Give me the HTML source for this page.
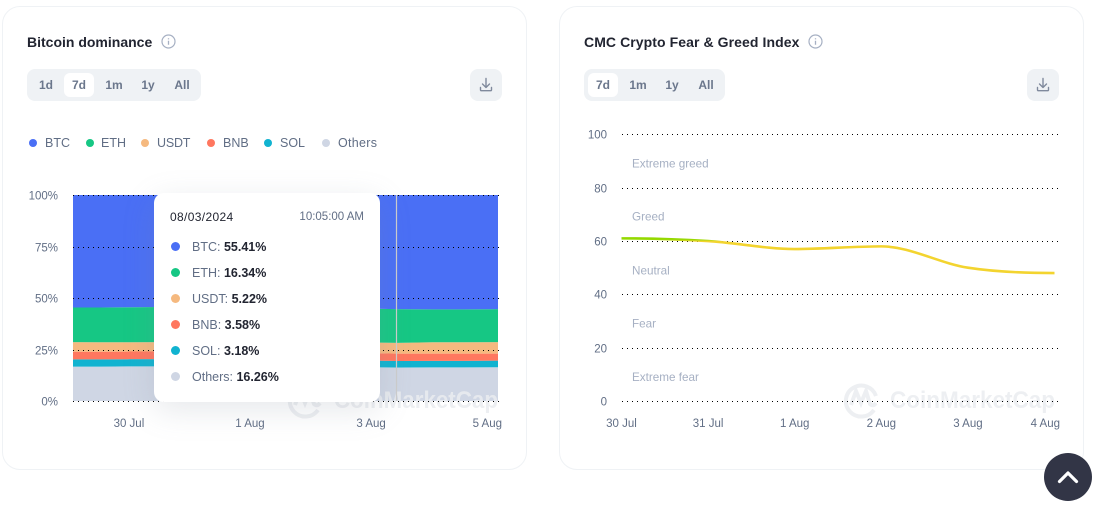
<!DOCTYPE html>
<html lang="en">
<head>
<meta charset="utf-8">
<title>Bitcoin dominance and Fear &amp; Greed charts</title>
<style>
html,body{margin:0;padding:0;background:#fff;}
body{position:relative;width:1100px;height:522px;overflow:hidden;font-family:"Liberation Sans",sans-serif;color:#222531;}
.card{position:absolute;top:6px;width:523px;height:462px;border:1px solid #eff2f5;border-radius:18px;background:#fff;box-sizing:content-box;}
.abs{position:absolute;white-space:nowrap;line-height:16px;}
.title{top:34px;font-size:14px;font-weight:bold;color:#222531;}
.tabs{position:absolute;top:69px;height:32px;border-radius:8px;background:#eff2f5;}
.tab{position:absolute;top:4px;height:24px;line-height:24px;text-align:center;font-size:12px;font-weight:bold;color:#6b778c;border-radius:6px;}
.tab.on{background:#fff;}
.dl{position:absolute;top:69px;width:32px;height:32px;border-radius:8px;background:#eff2f5;}
.info{position:absolute;top:34px;width:15px;height:15px;}
.lg-dot{position:absolute;top:139px;width:8px;height:8px;border-radius:50%;}
.lg-txt{top:135px;font-size:12.5px;color:#616e85;}
svg.chart{position:absolute;left:0;top:0;}
#tooltip{position:absolute;left:154px;top:193px;width:226px;height:209px;background:#fff;border-radius:10px;box-shadow:0 8px 32px rgba(128,138,157,.2);}
.tt-dot{position:absolute;left:17px;width:9px;height:9px;border-radius:50%;}
.tt-row{left:38px;font-size:12.5px;color:#616e85;}
.tt-row b{color:#222531;}
#scroll-top{position:absolute;left:1044px;top:453px;width:48px;height:48px;border-radius:50%;background:#323546;}
</style>
</head>
<body>

<section class="card" style="left:2px"></section>
<section class="card" style="left:559px"></section>

<svg id="dominance-chart" class="chart" width="1100" height="522"></svg>
<svg id="feargreed-chart" class="chart" width="1100" height="522"></svg>

<div class="abs title" style="left:27px">Bitcoin dominance</div>
<svg class="info" style="left:160.500px" viewBox="0 0 15 15"><circle cx="7.500" cy="7.500" r="6.500" fill="none" stroke="#a6b0c3" stroke-width="1.200"/><path d="M7.500 6.800V10.800M7.500 4.200V5.400" stroke="#a6b0c3" stroke-width="1.300" fill="none"/></svg>

<div class="tabs" style="left:27px;width:174px">
  <div class="tab" style="left:4px;width:30px">1d</div>
  <div class="tab on" style="left:37px;width:30px">7d</div>
  <div class="tab" style="left:72px;width:30px">1m</div>
  <div class="tab" style="left:106px;width:30px">1y</div>
  <div class="tab" style="left:140px;width:30px">All</div>
</div>
<div class="dl" style="left:470px">
  <svg width="32" height="32" viewBox="0 0 32 32"><path d="M16 9.500V18M12.500 15l3.500 3.500 3.500-3.500M10.500 18.500v2.200a1 1 0 0 0 1 1h9a1 1 0 0 0 1-1v-2.200" fill="none" stroke="#808a9d" stroke-width="1.400" stroke-linecap="round" stroke-linejoin="round"/></svg>
</div>

<div class="lg-dot" style="left:29px;background:#4a6ff5"></div>
<div class="abs lg-txt" style="left:45px">BTC</div>
<div class="lg-dot" style="left:86px;background:#16c784"></div>
<div class="abs lg-txt" style="left:101px">ETH</div>
<div class="lg-dot" style="left:141px;background:#f5b97f"></div>
<div class="abs lg-txt" style="left:157px;letter-spacing:-.2px">USDT</div>
<div class="lg-dot" style="left:207px;background:#ff775f"></div>
<div class="abs lg-txt" style="left:223px">BNB</div>
<div class="lg-dot" style="left:264px;background:#11b3d0"></div>
<div class="abs lg-txt" style="left:280px">SOL</div>
<div class="lg-dot" style="left:322px;background:#cfd6e4"></div>
<div class="abs lg-txt" style="left:338px;letter-spacing:.3px">Others</div>

<div id="tooltip">
  <div class="abs" style="left:16px;top:16px;font-size:12px;letter-spacing:.35px;color:#222531">08/03/2024</div>
  <div class="abs" style="right:16px;top:16px;font-size:11.500px;color:#616e85">10:05:00 AM</div>
  <div class="tt-dot" style="top:49px;background:#4a6ff5"></div>
  <div class="abs tt-row" style="top:46px">BTC: <b>55.41%</b></div>
  <div class="tt-dot" style="top:75px;background:#16c784"></div>
  <div class="abs tt-row" style="top:72px">ETH: <b>16.34%</b></div>
  <div class="tt-dot" style="top:101px;background:#f5b97f"></div>
  <div class="abs tt-row" style="top:98px">USDT: <b>5.22%</b></div>
  <div class="tt-dot" style="top:127px;background:#ff775f"></div>
  <div class="abs tt-row" style="top:124px">BNB: <b>3.58%</b></div>
  <div class="tt-dot" style="top:153px;background:#11b3d0"></div>
  <div class="abs tt-row" style="top:150px">SOL: <b>3.18%</b></div>
  <div class="tt-dot" style="top:179px;background:#cfd6e4"></div>
  <div class="abs tt-row" style="top:176px">Others: <b>16.26%</b></div>
</div>

<div class="abs title" style="left:584px;letter-spacing:.08px">CMC Crypto Fear &amp; Greed Index</div>
<svg class="info" style="left:807.500px" viewBox="0 0 15 15"><circle cx="7.500" cy="7.500" r="6.500" fill="none" stroke="#a6b0c3" stroke-width="1.200"/><path d="M7.500 6.800V10.800M7.500 4.200V5.400" stroke="#a6b0c3" stroke-width="1.300" fill="none"/></svg>

<div class="tabs" style="left:584px;width:141px">
  <div class="tab on" style="left:4px;width:30px">7d</div>
  <div class="tab" style="left:39px;width:30px">1m</div>
  <div class="tab" style="left:73px;width:30px">1y</div>
  <div class="tab" style="left:107px;width:30px">All</div>
</div>
<div class="dl" style="left:1027px">
  <svg width="32" height="32" viewBox="0 0 32 32"><path d="M16 9.500V18M12.500 15l3.500 3.500 3.500-3.500M10.500 18.500v2.200a1 1 0 0 0 1 1h9a1 1 0 0 0 1-1v-2.200" fill="none" stroke="#808a9d" stroke-width="1.400" stroke-linecap="round" stroke-linejoin="round"/></svg>
</div>

<div id="scroll-top">
  <svg width="48" height="48" viewBox="0 0 48 48"><path d="M15.500 28.500L24 20l8.500 8.500" fill="none" stroke="#fff" stroke-width="3.200" stroke-linecap="round" stroke-linejoin="round"/></svg>
</div>

<script>
var SVGNS = 'http://www.w3.org/2000/svg';
function make(parent, tag, attrs, text) {
  var el = document.createElementNS(SVGNS, tag);
  for (var k in attrs) { el.setAttribute(k, attrs[k]); }
  if (text !== undefined) { el.textContent = text; }
  parent.appendChild(el);
  return el;
}
function linear(d0, d1, r0, r1) {
  return function (v) { return r0 + (v - d0) * (r1 - r0) / (d1 - d0); };
}
function drawWatermark(svg, logoX, textX, textEnd) {
  var g = make(svg, 'g', { opacity: 0.85 });
  
  
  var logo = make(g, 'path', {
    d: 'M' + (logoX + 31) + ' 410 A15.500 15.500 0 1 1 ' + (logoX + 33) + ' 396 M' + (logoX + 8) + ' 405 L' + (logoX + 13) + ' 391 L' + (logoX + 18) + ' 403 L' + (logoX + 23) + ' 391 L' + (logoX + 27) + ' 404 Q' + (logoX + 30) + ' 407 ' + (logoX + 33) + ' 403',
    fill: 'none', stroke: '#ebedf0', 'stroke-width': 4
  });
  
  
  var word = make(g, 'text', {
    x: textX, y: 408, fill: '#ebedf0', 'font-size': 24, 'font-weight': 'bold',
    textLength: textEnd - textX, lengthAdjust: 'spacingAndGlyphs',
    'font-family': '"Liberation Sans",sans-serif'
  }, 'CoinMarketCap');
  
  
}
</script>

<script>
/* Bitcoin dominance: days are counted from 30 Jul 00:00 */
var domSampleDays = [-0.94, -0.5, 0, 0.5, 1, 2, 3, 3.5, 4, 4.42, 5, 5.5, 6.08];
var domOthers = [16.7, 16.7, 16.8, 16.8, 16.7, 16.6, 16.5, 16.4, 16.4, 16.26, 16.3, 16.3, 16.4];
var domSol    = [3.5, 3.5, 3.5, 3.5, 3.4, 3.4, 3.3, 3.3, 3.2, 3.18, 3.2, 3.2, 3.2];
var domBnb    = [3.7, 3.7, 3.7, 3.7, 3.7, 3.6, 3.6, 3.6, 3.6, 3.58, 3.5, 3.5, 3.4];
var domUsdt   = [4.7, 4.6, 4.5, 4.6, 4.7, 4.9, 5.0, 5.1, 5.2, 5.22, 5.5, 5.5, 5.6];
var domEth    = [16.8, 16.9, 17.0, 17.0, 17.0, 16.8, 16.6, 16.5, 16.4, 16.34, 16.0, 16.0, 16.0];
var domBtc    = [54.6, 54.6, 54.5, 54.4, 54.5, 54.7, 55.0, 55.1, 55.2, 55.42, 55.5, 55.5, 55.4];
var domSeriesNames = ['others', 'sol', 'bnb', 'usdt', 'eth', 'btc'];
var domYTicks = [0, 25, 50, 75, 100];
var domYTickLabels = ['0%', '25%', '50%', '75%', '100%'];
var domXTicks = [0, 2, 4, 6];
var domXTickLabels = ['30 Jul', '1 Aug', '3 Aug', '5 Aug'];
var domCrosshairDay = 4.42;

(function () {
  var svg = document.getElementById('dominance-chart');
  var colors = ['#cfd6e4', '#11b3d0', '#ff775f', '#f5b97f', '#16c784', '#4a6ff5'];
  var series = [domOthers, domSol, domBnb, domUsdt, domEth, domBtc];
  var x = linear(-0.94, 6.08, 73, 498);
  var y = linear(0, 100, 401, 195);
  var base = domSampleDays.map(function () { return 0; });
  series.forEach(function (vals, s) {
    var top = vals.map(function (v, i) { return Math.min(100, base[i] + v); });
    var d = top.map(function (v, i) { return (i ? 'L' : 'M') + x(domSampleDays[i]).toFixed(2) + ' ' + y(v).toFixed(2); }).join('');
    for (var i = domSampleDays.length - 1; i >= 0; i--) { d += 'L' + x(domSampleDays[i]).toFixed(2) + ' ' + y(base[i]).toFixed(2); }
    var area = make(svg, 'path', { d: d + 'Z', fill: colors[s] });
    
    
    base = top;
  });
  drawWatermark(svg, 287, 334, 498);
  var crossX = Math.floor(x(domCrosshairDay)) - 0.5;
  var cross = make(svg, 'line', { x1: crossX, x2: crossX, y1: 195, y2: 401, stroke: '#cccccc', 'stroke-width': 1.2 });
  
  
  domYTicks.forEach(function (t, i) {
    var yy = Math.round(y(t)) + 0.5;
    var grid = make(svg, 'line', { x1: 73, x2: 499, y1: yy, y2: yy, stroke: '#000', 'stroke-width': 1, 'stroke-dasharray': '1 4', 'shape-rendering': 'crispEdges' });
    
    
    var lab = make(svg, 'text', { x: 58, y: yy + 4, 'text-anchor': 'end', 'font-size': 11.5, fill: '#616e85' }, domYTickLabels[i]);
    
    
  });
  domXTicks.forEach(function (t, i) {
    var last = i === domXTicks.length - 1;
    var lab = make(svg, 'text', { x: last ? 502 : x(t) - 1, y: 427, 'text-anchor': last ? 'end' : 'middle', 'font-size': 11.5, fill: '#616e85' }, domXTickLabels[i]);
    
    
  });
})();
</script>

<script>
/* Fear & Greed: one reading per day */
var fgDays = [0, 1, 2, 3, 4, 5];
var fgValues = [61, 60, 57, 58, 50, 48];
var fgDayLabels = ['30 Jul', '31 Jul', '1 Aug', '2 Aug', '3 Aug', '4 Aug'];
var fgYTicks = [0, 20, 40, 60, 80, 100];
var fgZoneLabels = ['Extreme fear', 'Fear', 'Neutral', 'Greed', 'Extreme greed'];
var fgZoneCentres = [9, 29, 48.9, 69.2, 89.1];
var fgGreedThreshold = 60;

(function () {
  var svg = document.getElementById('feargreed-chart');
  var x = linear(0, 5, 621.5, 1054.5);
  var y = linear(0, 100, 401, 134.4);
  drawWatermark(svg, 843, 890, 1055);
  fgYTicks.forEach(function (t) {
    var yy = Math.round(y(t)) + 0.5;
    var grid = make(svg, 'line', { x1: 622, x2: 1058, y1: yy, y2: yy, stroke: '#000', 'stroke-width': 1, 'stroke-dasharray': '1 4', 'shape-rendering': 'crispEdges' });
    
    
    var lab = make(svg, 'text', { x: 607, y: yy + 4, 'text-anchor': 'end', 'font-size': 11.5, fill: '#616e85' }, String(t));
    
    
  });
  fgZoneLabels.forEach(function (name, i) {
    var lab = make(svg, 'text', { x: 632, y: y(fgZoneCentres[i]) + 4, 'font-size': 11.7, fill: '#a6b0c3' }, name);
    
    
  });
  fgDays.forEach(function (t, i) {
    var last = i === fgDays.length - 1;
    var lab = make(svg, 'text', { x: last ? 1060 : x(t), y: 427, 'text-anchor': last ? 'end' : 'middle', 'font-size': 11.5, fill: '#616e85' }, fgDayLabels[i]);
    
    
  });

  /* vertical colour zones on the line, split at the greed threshold */
  var defs = make(svg, 'defs', {});
  var grad = make(defs, 'linearGradient', {
    id: 'fg-line-gradient', gradientUnits: 'userSpaceOnUse',
    x1: 0, x2: 0, y1: y(fgGreedThreshold + 0.6), y2: y(fgGreedThreshold - 0.1)
  });
  make(grad, 'stop', { offset: 0, 'stop-color': '#93d900' });
  make(grad, 'stop', { offset: 1, 'stop-color': '#f3d42f' });

  /* monotone cubic through the daily readings, flat at both ends */
  var px = fgDays.map(x), py = fgValues.map(y), n = px.length;
  var slope = [], tan = [];
  for (var i = 0; i < n - 1; i++) { slope.push((py[i + 1] - py[i]) / (px[i + 1] - px[i])); }
  tan.push(0);
  for (i = 1; i < n - 1; i++) {
    if (slope[i - 1] * slope[i] <= 0) { tan.push(0); continue; }
    var mean = (slope[i - 1] + slope[i]) / 2;
    var lim = 3 * Math.min(Math.abs(slope[i - 1]), Math.abs(slope[i]));
    tan.push(Math.sign(mean) * Math.min(Math.abs(mean), lim));
  }
  tan.push(0);
  var d = 'M' + px[0] + ' ' + py[0];
  for (i = 0; i < n - 1; i++) {
    var h = (px[i + 1] - px[i]) / 3;
    d += 'C' + (px[i] + h) + ' ' + (py[i] + tan[i] * h) + ' ' + (px[i + 1] - h) + ' ' + (py[i + 1] - tan[i + 1] * h) + ' ' + px[i + 1] + ' ' + py[i + 1];
  }
  var line = make(svg, 'path', { d: d, fill: 'none', stroke: 'url(#fg-line-gradient)', 'stroke-width': 2.6, 'stroke-linecap': 'butt' });
  
  
})();
</script>
</body>
</html>
